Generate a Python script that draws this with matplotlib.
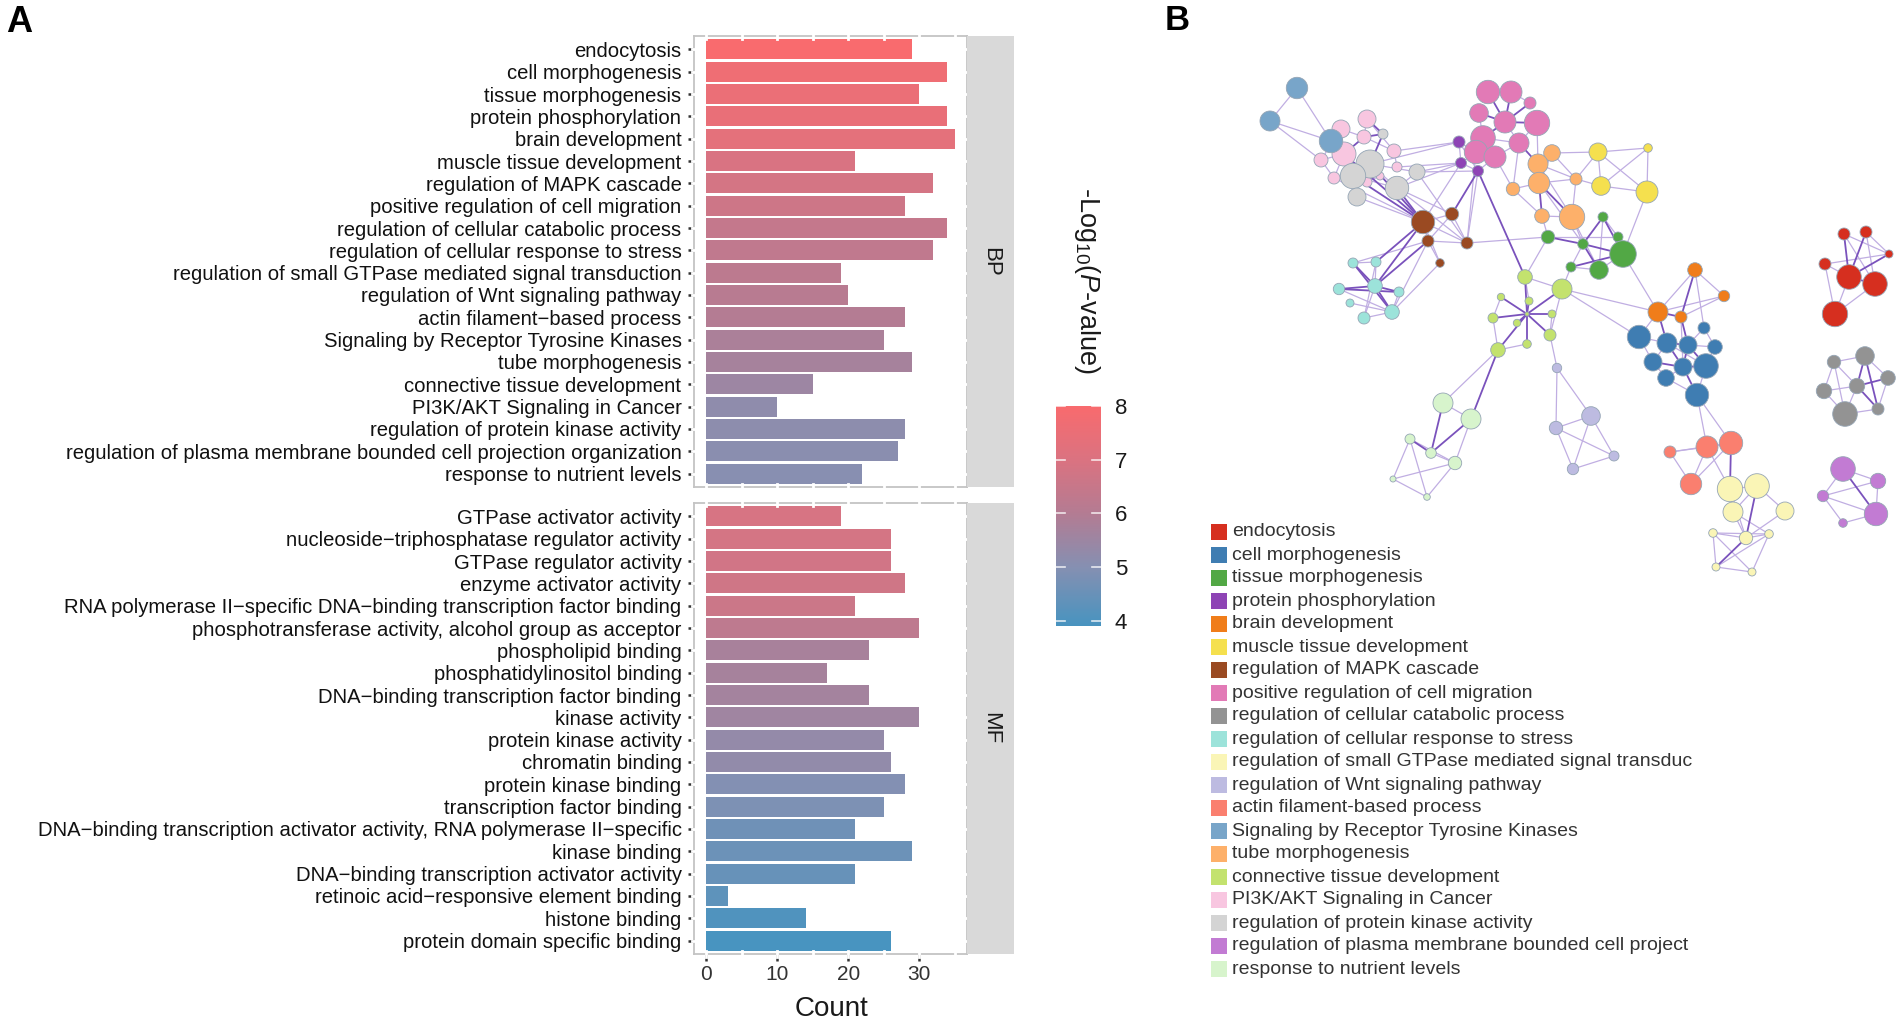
import numpy as np
import matplotlib.pyplot as plt
from matplotlib.colors import LinearSegmentedColormap, Normalize
from matplotlib.collections import LineCollection
from matplotlib.patches import Rectangle

plt.rcParams['font.family'] = ['Liberation Sans', 'DejaVu Sans']
plt.rcParams['mathtext.fontset'] = 'custom'
plt.rcParams['mathtext.rm'] = 'Liberation Sans'
plt.rcParams['mathtext.it'] = 'Liberation Sans:italic'

# ---- panel A data ----
bp_terms = ['endocytosis', 'cell morphogenesis', 'tissue morphogenesis', 'protein phosphorylation',
            'brain development', 'muscle tissue development', 'regulation of MAPK cascade',
            'positive regulation of cell migration', 'regulation of cellular catabolic process',
            'regulation of cellular response to stress', 'regulation of small GTPase mediated signal transduction',
            'regulation of Wnt signaling pathway', 'actin filament\u2212based process',
            'Signaling by Receptor Tyrosine Kinases', 'tube morphogenesis', 'connective tissue development',
            'PI3K/AKT Signaling in Cancer', 'regulation of protein kinase activity',
            'regulation of plasma membrane bounded cell projection organization', 'response to nutrient levels']
bp_count = [29, 34, 30, 34, 35, 21, 32, 28, 34, 32, 19, 20, 28, 25, 29, 15, 10, 28, 27, 22]
bp_logp = [8.0, 7.65, 7.55, 7.45, 7.3, 6.95, 6.8, 6.65, 6.4, 6.3, 6.2, 6.1, 6.0, 5.8, 5.7, 5.5,
           5.2, 5.15, 5.1, 5.05]

mf_terms = ['GTPase activator activity', 'nucleoside\u2212triphosphatase regulator activity',
            'GTPase regulator activity', 'enzyme activator activity',
            'RNA polymerase II\u2212specific DNA\u2212binding transcription factor binding',
            'phosphotransferase activity, alcohol group as acceptor', 'phospholipid binding',
            'phosphatidylinositol binding', 'DNA\u2212binding transcription factor binding', 'kinase activity',
            'protein kinase activity', 'chromatin binding', 'protein kinase binding',
            'transcription factor binding',
            'DNA\u2212binding transcription activator activity, RNA polymerase II\u2212specific',
            'kinase binding', 'DNA\u2212binding transcription activator activity',
            'retinoic acid\u2212responsive element binding', 'histone binding', 'protein domain specific binding']
mf_count = [19, 26, 26, 28, 21, 30, 23, 17, 23, 30, 25, 26, 28, 25, 21, 29, 21, 3, 14, 26]
mf_logp = [6.9, 6.8, 6.75, 6.7, 6.6, 6.25, 5.75, 5.7, 5.65, 5.55, 5.3, 5.25, 4.95, 4.85, 4.6,
           4.55, 4.45, 4.3, 4.05, 3.9]

count_ticks = [0, 10, 20, 30]
cbar_ticks = [4, 5, 6, 7, 8]
cbar_stops = [3.9, 5.0, 6.0, 7.0, 8.0]
cbar_colors = ['#4894C0', '#8690B2', '#B47C93', '#DB7381', '#F96B6E']

# ---- panel B data ----
legend_terms = ['endocytosis', 'cell morphogenesis', 'tissue morphogenesis', 'protein phosphorylation',
                'brain development', 'muscle tissue development', 'regulation of MAPK cascade',
                'positive regulation of cell migration', 'regulation of cellular catabolic process',
                'regulation of cellular response to stress', 'regulation of small GTPase mediated signal transduc',
                'regulation of Wnt signaling pathway', 'actin filament-based process',
                'Signaling by Receptor Tyrosine Kinases', 'tube morphogenesis', 'connective tissue development',
                'PI3K/AKT Signaling in Cancer', 'regulation of protein kinase activity',
                'regulation of plasma membrane bounded cell project', 'response to nutrient levels']
legend_colors = ['#D62F1F', '#3F7DB2', '#52A845', '#8E44B5', '#F07D1A', '#F5E04E', '#9A4A22',
                 '#E27AB6', '#939393', '#9CE3DA', '#FAF5B6', '#BDBBE1', '#FA7F6F', '#78A5C9',
                 '#FDB06A', '#C3E26E', '#F8C6E0', '#D4D4D4', '#C27BD3', '#D7F4CC']

# node id, cluster, layout x, layout y, radius
net_nodes = [
    ('en1', 0, 1844, 234, 6), ('en2', 0, 1866, 232, 6), ('en3', 0, 1889, 254, 4), ('en4', 0, 1825, 264, 6),
    ('en5', 0, 1849, 277, 12.3), ('en6', 0, 1875, 284, 12.3), ('en7', 0, 1835, 314, 12.7),
    ('cm1', 1, 1639, 337, 11.7), ('cm2', 1, 1667, 343, 10), ('cm3', 1, 1688, 345, 9), ('cm4', 1, 1704, 328, 6),
    ('cm5', 1, 1715, 347, 7.3), ('cm6', 1, 1653, 362, 9), ('cm7', 1, 1683, 367, 9), ('cm8', 1, 1706, 366, 12.3),
    ('cm9', 1, 1666, 378, 8.3), ('cm10', 1, 1697, 395, 11.7),
    ('tm1', 2, 1603, 217, 5), ('tm2', 2, 1548, 237, 6.7), ('tm3', 2, 1583, 244, 5.3), ('tm4', 2, 1618, 237, 5),
    ('tm5', 2, 1623, 254, 13.3), ('tm6', 2, 1571, 267, 5), ('tm7', 2, 1599, 270, 9.3),
    ('pp1', 3, 1459, 142, 6), ('pp2', 3, 1461, 163, 5.5), ('pp3', 3, 1478, 171, 5.5),
    ('bd1', 4, 1695, 270, 7.3), ('bd2', 4, 1724, 296, 5.7), ('bd3', 4, 1658, 312, 10), ('bd4', 4, 1681, 317, 6),
    ('mt1', 5, 1598, 152, 9), ('mt2', 5, 1648, 148, 4.3), ('mt3', 5, 1601, 186, 9.3), ('mt4', 5, 1647, 192, 11),
    ('mk1', 6, 1423, 222, 11.7), ('mk2', 6, 1452, 214, 6.7), ('mk3', 6, 1428, 241, 6), ('mk4', 6, 1467, 243, 6),
    ('mk5', 6, 1440, 263, 4.3),
    ('cg1', 7, 1488, 92, 11.7), ('cg2', 7, 1511, 92, 11), ('cg3', 7, 1530, 103, 6), ('cg4', 7, 1479, 113, 9.3),
    ('cg5', 7, 1505, 122, 11), ('cg6', 7, 1537, 123, 12.7), ('cg7', 7, 1483, 138, 12.3), ('cg8', 7, 1519, 143, 10),
    ('cg9', 7, 1476, 152, 11.7), ('cg10', 7, 1495, 157, 11),
    ('ca1', 8, 1865, 356, 9.3), ('ca2', 8, 1834, 362, 6.7), ('ca3', 8, 1888, 378, 7.3), ('ca4', 8, 1857, 386, 7.7),
    ('ca5', 8, 1824, 391, 7.7), ('ca6', 8, 1878, 409, 6), ('ca7', 8, 1845, 414, 12.3),
    ('st1', 9, 1353, 263, 5), ('st2', 9, 1376, 262, 5), ('st3', 9, 1375, 286, 7.3), ('st4', 9, 1339, 289, 5.7),
    ('st5', 9, 1399, 292, 5), ('st6', 9, 1350, 303, 4), ('st7', 9, 1392, 312, 7.3), ('st8', 9, 1364, 318, 6),
    ('gt1', 10, 1730, 489, 12.7), ('gt2', 10, 1757, 486, 12.3), ('gt3', 10, 1733, 512, 10), ('gt4', 10, 1785, 511, 9),
    ('gt5', 10, 1713, 533, 4.3), ('gt6', 10, 1746, 538, 6.7), ('gt7', 10, 1769, 534, 4.3), ('gt8', 10, 1716, 567, 4),
    ('gt9', 10, 1752, 572, 4),
    ('wn1', 11, 1557, 368, 4.7), ('wn2', 11, 1591, 416, 9.3), ('wn3', 11, 1556, 428, 6.7), ('wn4', 11, 1573, 469, 5.7),
    ('wn5', 11, 1614, 456, 5),
    ('ac1', 12, 1670, 452, 6), ('ac2', 12, 1707, 447, 11), ('ac3', 12, 1731, 443, 11.7), ('ac4', 12, 1691, 484, 10.7),
    ('tb1', 14, 1552, 153, 8.3), ('tb2', 14, 1538, 164, 10), ('tb3', 14, 1539, 183, 10.7), ('tb4', 14, 1513, 189, 6.7),
    ('tb5', 14, 1576, 179, 6), ('tb6', 14, 1542, 216, 7.3), ('tb7', 14, 1572, 217, 12.7),
    ('ct0', 15, 1527, 314, 2), ('ct1', 15, 1525, 277, 7.3), ('ct2', 15, 1562, 289, 10), ('ct3', 15, 1501, 297, 3.7),
    ('ct4', 15, 1529, 301, 4), ('ct5', 15, 1552, 314, 4), ('ct6', 15, 1493, 318, 5), ('ct7', 15, 1517, 323, 3.7),
    ('ct8', 15, 1550, 335, 6), ('ct9', 15, 1527, 344, 4.3), ('ct10', 15, 1498, 350, 7.3),
    ('pi1', 16, 1367, 119, 9), ('pi2', 16, 1341, 129, 9), ('pi3', 16, 1364, 137, 7), ('pi4', 16, 1344, 154, 12),
    ('pi5', 16, 1321, 160, 7), ('pi6', 16, 1394, 151, 7), ('pi7', 16, 1397, 167, 5), ('pi8', 16, 1334, 178, 6),
    ('pi9', 16, 1367, 182, 5), ('pi10', 16, 1380, 176, 4),
    ('rt1', 13, 1297, 88, 10.7), ('rt2', 13, 1270, 121, 10), ('rt3', 13, 1331, 141, 11.7),
    ('pk1', 17, 1383, 134, 5), ('pk2', 17, 1370, 164, 14), ('pk3', 17, 1353, 176, 12.7), ('pk4', 17, 1417, 172, 8),
    ('pk5', 17, 1397, 188, 11.7), ('pk6', 17, 1357, 197, 9),
    ('pm1', 18, 1843, 469, 12.3), ('pm2', 18, 1878, 481, 7.7), ('pm3', 18, 1823, 496, 5.7), ('pm4', 18, 1876, 514, 11.7),
    ('pm5', 18, 1843, 523, 4.3),
    ('nu1', 19, 1443, 403, 10), ('nu2', 19, 1471, 419, 10), ('nu3', 19, 1410, 439, 5), ('nu4', 19, 1431, 453, 5.3),
    ('nu5', 19, 1455, 463, 6.7), ('nu6', 19, 1393, 479, 3), ('nu7', 19, 1427, 497, 3.3),
]

# similarity edges: (node, node, strength 1 = weak, 2 = strong)
net_edges = [
    ('en1', 'en5', 2), ('en2', 'en5', 2), ('en2', 'en6', 1), ('en1', 'en3', 1), ('en2', 'en3', 1), ('en4', 'en5', 1),
    ('en4', 'en7', 1), ('en5', 'en6', 2), ('en5', 'en7', 1), ('en6', 'en7', 1), ('en4', 'en3', 1), ('en1', 'en6', 1),
    ('en3', 'en5', 2),
    ('cm2', 'cm3', 2), ('cm2', 'cm7', 2), ('cm3', 'cm7', 2), ('cm6', 'cm7', 2), ('cm7', 'cm8', 2), ('cm3', 'cm5', 1),
    ('cm4', 'cm5', 1), ('cm3', 'cm4', 1), ('cm7', 'cm10', 2), ('cm8', 'cm10', 1), ('cm9', 'cm7', 1), ('cm6', 'cm2', 1),
    ('cm1', 'cm2', 1), ('cm1', 'cm6', 1), ('cm3', 'cm8', 2), ('cm5', 'cm8', 1), ('cm9', 'cm10', 1), ('cm6', 'cm9', 1),
    ('cm2', 'cm8', 1),
    ('tm1', 'tm3', 2), ('tm1', 'tm5', 2), ('tm1', 'tm4', 1), ('tm2', 'tm3', 2), ('tm3', 'tm5', 2), ('tm3', 'tm7', 2),
    ('tm4', 'tm5', 1), ('tm6', 'tm3', 1), ('tm6', 'tm5', 2), ('tm7', 'tm5', 1), ('tm2', 'tm4', 1), ('tm6', 'tm7', 1),
    ('tm1', 'tm7', 1),
    ('pp1', 'pp2', 1), ('pp2', 'pp3', 1), ('pp1', 'pp3', 1),
    ('bd1', 'bd3', 1), ('bd1', 'bd4', 2), ('bd1', 'bd2', 1), ('bd2', 'bd3', 1), ('bd3', 'bd4', 2), ('bd2', 'bd4', 1),
    ('mt1', 'mt2', 1), ('mt1', 'mt3', 1), ('mt2', 'mt4', 1), ('mt3', 'mt4', 1), ('mt1', 'mt4', 1), ('mt2', 'mt3', 1),
    ('mk1', 'mk2', 1), ('mk1', 'mk3', 1), ('mk2', 'mk4', 1), ('mk1', 'mk4', 1), ('mk3', 'mk4', 1), ('mk3', 'mk5', 1),
    ('mk1', 'mk5', 1), ('mk2', 'mk3', 1),
    ('cg1', 'cg5', 2), ('cg2', 'cg5', 2), ('cg3', 'cg5', 2), ('cg4', 'cg5', 2), ('cg5', 'cg6', 2), ('cg5', 'cg7', 2),
    ('cg5', 'cg8', 1), ('cg7', 'cg8', 1), ('cg1', 'cg2', 1), ('cg2', 'cg3', 1), ('cg7', 'cg9', 1), ('cg7', 'cg10', 1),
    ('cg6', 'cg8', 1), ('cg4', 'cg7', 1), ('cg9', 'cg10', 1), ('cg8', 'cg10', 1),
    ('ca1', 'ca4', 2), ('ca2', 'ca4', 1), ('ca3', 'ca4', 2), ('ca4', 'ca5', 1), ('ca4', 'ca6', 2), ('ca4', 'ca7', 1),
    ('ca1', 'ca2', 1), ('ca1', 'ca3', 1), ('ca2', 'ca5', 1), ('ca5', 'ca7', 1), ('ca7', 'ca6', 1), ('ca3', 'ca6', 1),
    ('ca2', 'ca7', 1), ('ca1', 'ca6', 2),
    ('st1', 'st3', 2), ('st2', 'st3', 1), ('st3', 'st4', 2), ('st3', 'st5', 2), ('st3', 'st7', 2), ('st3', 'st8', 1),
    ('st1', 'st7', 2), ('st2', 'st8', 1), ('st4', 'st5', 2), ('st6', 'st7', 1), ('st1', 'st2', 1), ('st5', 'st7', 1),
    ('st8', 'st7', 1), ('st4', 'st7', 1),
    ('gt1', 'gt2', 1), ('gt1', 'gt3', 1), ('gt2', 'gt3', 1), ('gt2', 'gt4', 1), ('gt3', 'gt6', 1), ('gt2', 'gt6', 2),
    ('gt4', 'gt6', 1), ('gt5', 'gt6', 1), ('gt6', 'gt7', 1), ('gt5', 'gt7', 1), ('gt5', 'gt8', 1), ('gt8', 'gt9', 1),
    ('gt7', 'gt9', 1), ('gt5', 'gt9', 1), ('gt6', 'gt8', 2), ('gt3', 'gt7', 1), ('gt1', 'gt6', 1), ('gt7', 'gt8', 1),
    ('wn1', 'wn3', 1), ('wn1', 'wn2', 1), ('wn2', 'wn3', 1), ('wn3', 'wn4', 1), ('wn2', 'wn4', 1), ('wn2', 'wn5', 1),
    ('wn4', 'wn5', 1), ('wn3', 'wn5', 1),
    ('ac1', 'ac2', 1), ('ac2', 'ac3', 1), ('ac1', 'ac4', 1), ('ac2', 'ac4', 1), ('ac3', 'ac4', 1), ('ac1', 'ac3', 1),
    ('rt1', 'rt2', 1), ('rt2', 'rt3', 1), ('rt1', 'rt3', 1),
    ('tb1', 'tb2', 1), ('tb2', 'tb3', 2), ('tb1', 'tb3', 1), ('tb3', 'tb4', 1), ('tb3', 'tb5', 1), ('tb2', 'tb5', 1),
    ('tb3', 'tb6', 2), ('tb3', 'tb7', 2), ('tb6', 'tb7', 1), ('tb4', 'tb6', 1), ('tb5', 'tb7', 1), ('tb2', 'tb7', 1),
    ('tb1', 'tb5', 1),
    ('ct0', 'ct1', 2), ('ct0', 'ct2', 2), ('ct0', 'ct3', 2), ('ct0', 'ct4', 2), ('ct0', 'ct5', 2), ('ct0', 'ct6', 2),
    ('ct0', 'ct7', 2), ('ct0', 'ct8', 2), ('ct0', 'ct9', 2), ('ct0', 'ct10', 2), ('ct1', 'ct2', 1), ('ct3', 'ct6', 1),
    ('ct6', 'ct10', 1), ('ct8', 'ct2', 1), ('ct9', 'ct10', 1), ('ct5', 'ct8', 1), ('ct4', 'ct1', 1),
    ('pi1', 'pi3', 1), ('pi2', 'pi3', 1), ('pi2', 'pi4', 1), ('pi3', 'pi4', 2), ('pi4', 'pi5', 1), ('pi3', 'pi6', 1),
    ('pi6', 'pi7', 1), ('pi4', 'pi8', 1), ('pi9', 'pi10', 1), ('pi4', 'pi9', 1), ('pi1', 'pi6', 1), ('pi5', 'pi8', 1),
    ('pi2', 'pi5', 1), ('pi1', 'pk1', 2), ('pi3', 'pk1', 2),
    ('pk1', 'pk2', 2), ('pk2', 'pk3', 1), ('pk2', 'pk4', 1), ('pk2', 'pk5', 1), ('pk3', 'pk6', 1), ('pk4', 'pk5', 1),
    ('pk3', 'pk5', 1),
    ('pm1', 'pm2', 1), ('pm1', 'pm3', 1), ('pm1', 'pm4', 2), ('pm2', 'pm4', 1), ('pm3', 'pm4', 1), ('pm3', 'pm5', 1),
    ('pm5', 'pm4', 1), ('pm2', 'pm3', 1),
    ('nu1', 'nu2', 1), ('nu1', 'nu4', 2), ('nu2', 'nu4', 2), ('nu3', 'nu4', 2), ('nu3', 'nu5', 1), ('nu4', 'nu5', 1),
    ('nu2', 'nu5', 1), ('nu3', 'nu6', 1), ('nu6', 'nu7', 1), ('nu5', 'nu7', 1), ('nu6', 'nu5', 1), ('nu3', 'nu7', 1),
    ('pi4', 'mk1', 2), ('pk2', 'mk1', 2), ('pk3', 'mk1', 2), ('pk5', 'mk1', 2), ('pk5', 'mk2', 1), ('pk6', 'mk1', 1),
    ('pk4', 'mk4', 1), ('pk5', 'mk4', 1), ('pi8', 'mk1', 1),
    ('mk1', 'st3', 2), ('mk3', 'st3', 2), ('mk3', 'st7', 1), ('mk1', 'st2', 2), ('mk5', 'st7', 1), ('mk3', 'st1', 1),
    ('pk4', 'pp2', 1), ('pk2', 'pp1', 1), ('pk5', 'pp2', 1), ('pk4', 'pp3', 1), ('pi6', 'pp1', 1), ('pi7', 'pp2', 1),
    ('pp1', 'cg9', 1), ('pp3', 'cg10', 1), ('pp2', 'cg9', 1),
    ('pp3', 'mk2', 2), ('pp2', 'mk1', 1), ('cg9', 'mk4', 1), ('pp3', 'mk4', 1), ('pp3', 'ct1', 2),
    ('rt2', 'pi5', 1),
    ('cg8', 'tb2', 2), ('cg6', 'tb2', 1), ('cg10', 'tb4', 1), ('cg8', 'tb4', 1),
    ('tb1', 'mt1', 1), ('tb5', 'mt3', 1), ('tb5', 'mt1', 1),
    ('tb6', 'tm2', 1), ('tb7', 'tm3', 1), ('tb7', 'tm7', 1), ('tb3', 'tm3', 1), ('tm5', 'mt4', 1), ('mk4', 'tm2', 1),
    ('tm6', 'ct2', 1), ('tm2', 'ct1', 1), ('ct2', 'cm1', 1), ('ct2', 'bd3', 1), ('tm5', 'bd3', 1),
    ('bd3', 'cm2', 2), ('bd4', 'cm3', 2), ('bd3', 'cm1', 1), ('bd1', 'cm4', 1), ('bd4', 'cm7', 1),
    ('ct10', 'nu1', 1), ('ct10', 'nu2', 2), ('ct8', 'wn1', 1),
    ('cm10', 'ac2', 1), ('cm10', 'ac3', 1), ('ac3', 'gt1', 2), ('ac2', 'gt1', 1),
]

W, H = 1902, 1024
fig = plt.figure(figsize=(W / 100, H / 100), dpi=100)


def px_axes(x0, y0, x1, y1):
    return fig.add_axes([x0 / W, 1 - y1 / H, (x1 - x0) / W, (y1 - y0) / H])


cmap = LinearSegmentedColormap.from_list(
    'logp', [((v - cbar_stops[0]) / (cbar_stops[-1] - cbar_stops[0]), c) for v, c in zip(cbar_stops, cbar_colors)])
norm = Normalize(vmin=cbar_stops[0], vmax=cbar_stops[-1])


def draw_panel(ax, terms, counts, logp, strip_label, show_x):
    n = len(terms)
    y = np.arange(n)[::-1]
    ax.barh(y, counts, height=0.9, color=cmap(norm(np.array(logp))), zorder=2)
    ax.set_xlim(-1.75, 36.75)
    ax.set_ylim(-0.6, n - 0.4)
    ax.set_yticks(y)
    ax.set_yticklabels(terms, fontsize=14.6, color='#111111')
    ax.set_xticks(count_ticks)
    ax.tick_params(axis='y', length=4, width=1.8, color='#333333', pad=5)
    ax.tick_params(axis='x', length=5, width=1.8, color='#333333', pad=3, labelsize=15, labelcolor='#333333')
    if not show_x:
        ax.tick_params(axis='x', length=0, labelbottom=False)
    for sp in ax.spines.values():
        sp.set_color('#C4C4C4')
        sp.set_linewidth(1.3)
    # white grid marks crossing the border, as in the ggplot panel
    for gx in range(0, 40, 5):
        for yy in (0.0, 1.0):
            ax.plot([gx, gx], [yy - 0.006, yy + 0.006], color='white', lw=2,
                    transform=ax.get_xaxis_transform(), clip_on=False, zorder=6)
    for gy in y:
        for xx in (0.0, 1.0):
            ax.plot([xx - 0.006, xx + 0.006], [gy, gy], color='white', lw=2,
                    transform=ax.get_yaxis_transform(), clip_on=False, zorder=6)
    pos = ax.get_position()
    strip = fig.add_axes([pos.x1, pos.y0, 47 / W, pos.height])
    strip.set_facecolor('#D9D9D9')
    strip.set_xticks([])
    strip.set_yticks([])
    for sp in strip.spines.values():
        sp.set_visible(False)
    strip.text(0.5, 0.5, strip_label, rotation=270, ha='center', va='center', fontsize=16, color='#1A1A1A',
               transform=strip.transAxes)


ax_bp = px_axes(694, 36, 967, 487)
draw_panel(ax_bp, bp_terms, bp_count, bp_logp, 'BP', False)
ax_mf = px_axes(694, 503, 967, 954)
draw_panel(ax_mf, mf_terms, mf_count, mf_logp, 'MF', True)
fig.text(831 / W, 1 - 1009 / H, 'Count', fontsize=20, ha='center', va='center', color='#1A1A1A')

# colour bar
ax_cb = px_axes(1056, 406, 1101, 626)
grad = np.linspace(cbar_stops[0], cbar_stops[-1], 256).reshape(-1, 1)
ax_cb.imshow(grad, aspect='auto', cmap=cmap, norm=norm, origin='lower',
             extent=[0, 1, cbar_stops[0], cbar_stops[-1]])
ax_cb.set_xlim(0, 1)
ax_cb.set_ylim(cbar_stops[0], cbar_stops[-1])
ax_cb.set_xticks([])
ax_cb.yaxis.tick_right()
ax_cb.set_yticks(cbar_ticks)
ax_cb.set_yticklabels([str(t) for t in cbar_ticks], fontsize=16, color='#1A1A1A')
ax_cb.tick_params(axis='y', length=0, pad=10)
for t in cbar_ticks:
    ax_cb.plot([0, 0.2], [t, t], color='white', lw=1.2, alpha=0.8)
    ax_cb.plot([0.8, 1], [t, t], color='white', lw=1.2, alpha=0.8)
for sp in ax_cb.spines.values():
    sp.set_visible(False)
fig.text(1087 / W, 1 - 280 / H, r'-Log$_{10}$($\it{P}$-value)', rotation=270, fontsize=19.5,
         ha='center', va='center', color='#1A1A1A')

fig.text(6 / W, 1 - 23 / H, 'A', fontsize=26, fontweight='bold', va='center', ha='left')
fig.text(1165 / W, 1 - 20 / H, 'B', fontsize=25, fontweight='bold', va='center', ha='left')

# network
ax_net = px_axes(1240, 40, 1902, 600)
ax_net.set_xlim(1240, 1902)
ax_net.set_ylim(600, 40)
ax_net.axis('off')
pos_of = {n[0]: (n[2], n[3]) for n in net_nodes}
weak = [[pos_of[a], pos_of[b]] for a, b, w in net_edges if w == 1]
strong = [[pos_of[a], pos_of[b]] for a, b, w in net_edges if w == 2]
ax_net.add_collection(LineCollection(weak, colors='#C0AEE2', linewidths=0.9, zorder=1))
ax_net.add_collection(LineCollection(strong, colors='#7A52BC', linewidths=1.3, zorder=1))
nx = [n[2] for n in net_nodes]
ny = [n[3] for n in net_nodes]
ns = [(2 * n[4] * 0.72) ** 2 for n in net_nodes]
nc = [legend_colors[n[1]] for n in net_nodes]
ax_net.scatter(nx, ny, s=ns, c=nc, edgecolors='#95A5B5', linewidths=0.6, zorder=3)

for i, (term, col) in enumerate(zip(legend_terms, legend_colors)):
    yc = 532 + 23 * i
    fig.add_artist(Rectangle((1211 / W, 1 - (yc + 8) / H), 16 / W, 16 / H, transform=fig.transFigure,
                             facecolor=col, edgecolor='none'))
    fig.text(1232 / W, 1 - yc / H, term, fontsize=14, va='center', ha='left', color='#333333')

fig.savefig('out.png', dpi=100)
